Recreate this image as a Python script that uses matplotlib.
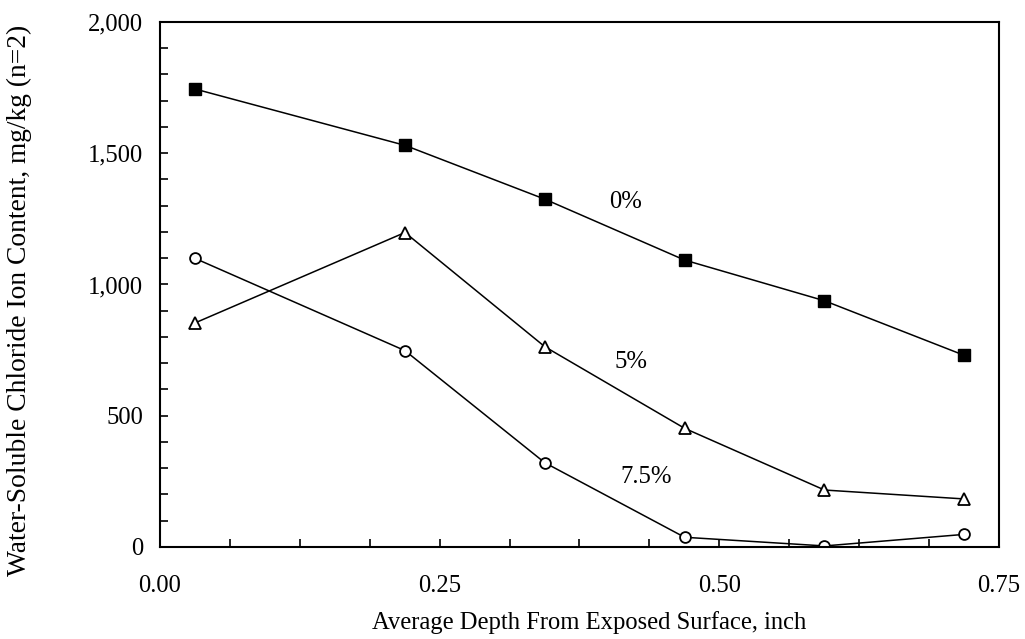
import numpy as np
import matplotlib.pyplot as plt
from matplotlib.ticker import MultipleLocator, FuncFormatter

# depth of each slice (inch) and chloride content per mix (mg/kg)
depth = [0.031, 0.219, 0.344, 0.469, 0.594, 0.719]
cl_0 = [1745, 1530, 1325, 1093, 938, 730]
cl_5 = [853, 1198, 763, 452, 217, 183]
cl_75 = [1100, 748, 321, 37, 4, 48]

labels = ['0%', '5%', '7.5%']
label_pos = [(0.416, 1315), (0.421, 704), (0.435, 268)]

plt.rcParams['font.family'] = ['Liberation Serif', 'DejaVu Serif']
plt.rcParams['font.size'] = 17.7

fig = plt.figure(figsize=(10.25, 6.39), dpi=100)
ax = fig.add_axes([0.1561, 0.144, 0.8185, 0.8216])

ax.plot(depth, cl_0, c='k', lw=1.1, marker='s', ms=8.5, mfc='k', mec='k')
ax.plot(depth, cl_5, c='k', lw=1.1, marker='^', ms=8, mfc='w', mec='k', mew=1.3)
ax.plot(depth, cl_75, c='k', lw=1.1, marker='o', ms=7.8, mfc='w', mec='k', mew=1.3)

# series names written next to the curves
for text, (x, y) in zip(labels, label_pos):
    ax.text(x, y, text, ha='center', va='center')

ax.set_xlim(0, 0.75)
ax.set_ylim(0, 2000)
ax.xaxis.set_major_locator(MultipleLocator(0.25))
ax.xaxis.set_minor_locator(MultipleLocator(0.0625))
ax.yaxis.set_major_locator(MultipleLocator(500))
ax.yaxis.set_minor_locator(MultipleLocator(100))
ax.xaxis.set_major_formatter(FuncFormatter(lambda v, p: f'{v:.2f}'))
ax.yaxis.set_major_formatter(FuncFormatter(lambda v, p: f'{v:,.0f}'))

ax.tick_params(axis='both', which='both', direction='in', length=6, width=1.2,
               top=False, right=False)
ax.tick_params(axis='x', which='major', pad=20)
ax.tick_params(axis='y', which='major', pad=12)
for s in ax.spines.values():
    s.set_linewidth(1.5)

ax.set_xlabel('Average Depth From Exposed Surface, inch')
ax.xaxis.set_label_coords(0.512, -0.122)
ax.set_ylabel('Water-Soluble Chloride Ion Content, mg/kg (n=2)', fontsize=19.8)
ax.yaxis.set_label_coords(-0.153, 0.47)

fig.savefig('out.png', dpi=100)
